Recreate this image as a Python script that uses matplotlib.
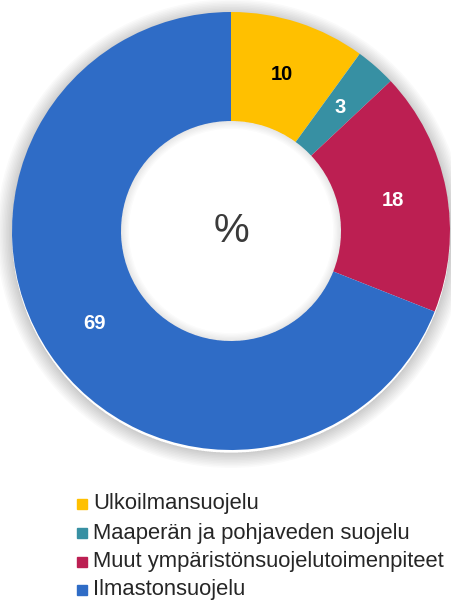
import numpy as np
import matplotlib.pyplot as plt
from matplotlib.patches import Wedge
from matplotlib.lines import Line2D

labels = ['Ulkoilmansuojelu', 'Maaperän ja pohjaveden suojelu',
          'Muut ympäristönsuojelutoimenpiteet', 'Ilmastonsuojelu']
values = [10, 3, 18, 69]
colors = ['#FFC000', '#3790A3', '#BC1F52', '#2F6CC6']
label_colors = ['black', 'white', 'white', 'white']

plt.rcParams['font.family'] = ['Liberation Sans', 'DejaVu Sans']

W, H = 451, 602
fig = plt.figure(figsize=(W / 100, H / 100), dpi=100)
fig.patch.set_facecolor('white')

# donut placed by pixel centre and radius (axes spans 1.1 radii each way)
cx, cy, r = 231, 231, 219
ax = fig.add_axes([(cx - r * 1.1) / W, (H - cy - r * 1.1) / H, 2.2 * r / W, 2.2 * r / H])

inner = 110 / 219
wedges, _ = ax.pie(values, colors=colors, startangle=90, counterclock=False,
                   radius=1.0, wedgeprops=dict(width=1 - inner, linewidth=0))
ax.set_xlim(-1.1, 1.1)
ax.set_ylim(-1.1, 1.1)
ax.set_aspect('auto')
ax.axis('off')

# soft drop shadow outside the ring
for i in range(10):
    ax.add_patch(Wedge((0.0, -0.012), 1.0 + 0.007 * (i + 1), 0, 360, width=0.007 * (i + 1),
                       color='black', alpha=0.018, lw=0, zorder=0))

# faint shadow on the edge of the hole
for i in range(6):
    ax.add_patch(Wedge((0, 0), inner, 0, 360, width=0.006 * (i + 1),
                       color='black', alpha=0.014, lw=0, zorder=3))

mid = (1 + inner) / 2
for w, v, c in zip(wedges, values, label_colors):
    ang = np.deg2rad((w.theta1 + w.theta2) / 2)
    ax.text(mid * np.cos(ang), mid * np.sin(ang), str(v), ha='center', va='center',
            fontsize=14.5, fontweight='bold', color=c, zorder=5)

ax.text(0, 0, '%', ha='center', va='center', fontsize=29, color='#3a3a3a', zorder=5)

# legend drawn as marker + text rows
rows_y = [504, 533, 562, 590]
for lab, col, y in zip(labels, colors, rows_y):
    fig.add_artist(Line2D([82 / W], [1 - y / H], marker='s', markersize=7.2, color=col,
                          linestyle='none', transform=fig.transFigure))
    fig.text(93 / W, 1 - y / H, lab, color='#262626', fontsize=15.8, ha='left', va='center')

fig.savefig('out.png', dpi=100, facecolor='white')
